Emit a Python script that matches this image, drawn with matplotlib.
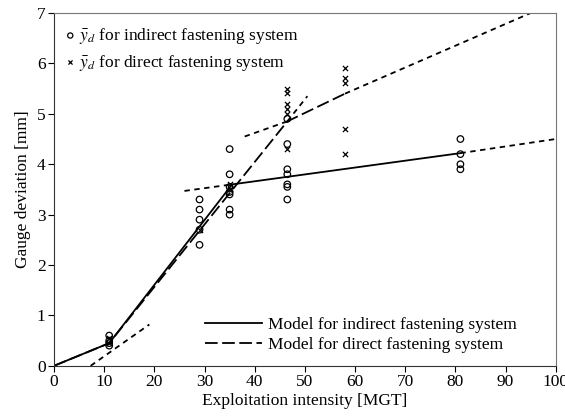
import numpy as np
import matplotlib.pyplot as plt

# measured points
x_ind = [11, 11, 11, 11,
         29, 29, 29, 29, 29,
         35, 35, 35, 35, 35, 35, 35,
         46.5, 46.5, 46.5, 46.5, 46.5, 46.5, 46.5,
         81, 81, 81, 81]
y_ind = [0.6, 0.5, 0.45, 0.4,
         3.3, 3.1, 2.9, 2.7, 2.4,
         4.3, 3.8, 3.55, 3.4, 3.45, 3.1, 3.0,
         4.9, 4.4, 3.9, 3.8, 3.6, 3.55, 3.3,
         4.5, 4.2, 4.0, 3.9]

x_dir = [11, 11, 29, 35, 35,
         46.5, 46.5, 46.5, 46.5, 46.5, 46.5,
         58, 58, 58, 58, 58]
y_dir = [0.45, 0.55, 2.7, 3.5, 3.6,
         5.5, 5.42, 5.2, 5.1, 5.0, 4.3,
         5.9, 5.72, 5.62, 4.7, 4.2]

# models
mod_ind_x = [0, 11, 35.5, 81]
mod_ind_y = [0, 0.45, 3.6, 4.22]
mod_dir_x = [0, 11, 46.5, 58]
mod_dir_y = [0, 0.45, 4.85, 5.4]

# extensions of model segments (short dash)
ext = [
    ([7.3, 19], [0.0, 0.82]),
    ([26, 35.5], [3.47, 3.6]),
    ([81, 100], [4.22, 4.5]),
    ([38, 46.5], [4.55, 4.85]),
    ([46.5, 50.5], [4.85, 5.35]),
    ([58, 95], [5.4, 7.0]),
]

plt.rcParams['font.family'] = 'Liberation Serif'
plt.rcParams['mathtext.fontset'] = 'stix'
plt.rc('font', size=12.5)

fig = plt.figure(figsize=(5.65, 4.2), dpi=100)
ax = fig.add_axes([0.0956, 0.129, 0.888, 0.84])

for ex, ey in ext:
    ax.plot(ex, ey, color='black', lw=1.3, dashes=(3, 2.5))

l1, = ax.plot(mod_ind_x, mod_ind_y, color='black', lw=1.3)
l2, = ax.plot(mod_dir_x, mod_dir_y, color='black', lw=1.3, dashes=(7, 2.5))

p1 = ax.scatter(x_ind, y_ind, s=22, facecolors='none', edgecolors='black', linewidths=0.9, zorder=3)
p2 = ax.scatter(x_dir, y_dir, s=14, marker='x', color='black', linewidths=0.9, zorder=3)

leg1 = ax.legend([p1, p2], [r'$\bar{y}_d$ for indirect fastening system',
                            r'$\bar{y}_d$ for direct fastening system'],
                 loc='upper left', bbox_to_anchor=(0.022, 0.963),
                 frameon=False, handletextpad=0.2, handlelength=0.6,
                 borderaxespad=0, borderpad=0, labelspacing=0.4,
                 markerscale=0.8)
ax.add_artist(leg1)
ax.legend([l1, l2], ['Model for indirect fastening system',
                     'Model for direct fastening system'],
          loc='lower left', bbox_to_anchor=(0.301, 0.035), frameon=False,
          handlelength=3.3, handletextpad=0.35, borderaxespad=0,
          borderpad=0, labelspacing=0.27)

ax.set_xlim(0, 100)
ax.set_ylim(0, 7)
ax.set_xticks(np.arange(0, 101, 10))
ax.set_yticks(np.arange(0, 8, 1))
ax.tick_params(direction='out', length=4, width=0.8, pad=2)
for s in ['top', 'right']:
    ax.spines[s].set_color('#777777')
for s in ['left', 'bottom']:
    ax.spines[s].set_color('#333333')

ax.set_xlabel('Exploitation intensity [MGT]', labelpad=2)
ax.set_ylabel('Gauge deviation [mm]', labelpad=4)

fig.savefig('out.png', dpi=100)
